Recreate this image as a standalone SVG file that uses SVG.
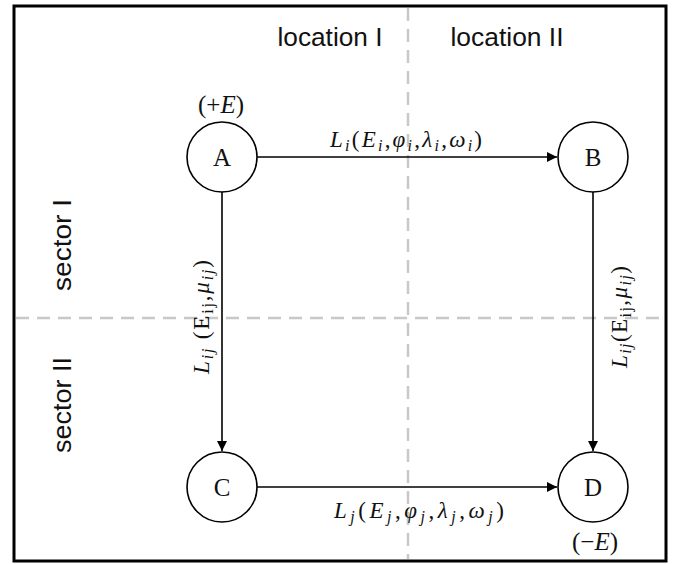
<svg xmlns="http://www.w3.org/2000/svg" width="674" height="564" viewBox="0 0 674 564">
<defs>
<style>
.frame{fill:#fff;stroke:#000;stroke-width:3}
.grid{stroke:#c8c8c8;stroke-width:2.5;stroke-dasharray:13 8;fill:none}
.node{fill:#fff;stroke:#000;stroke-width:1.6}
.edge{stroke:#000;stroke-width:1.6;fill:none}
.sans{font-family:"Liberation Sans",Arial,sans-serif;font-size:26px;fill:#111;text-anchor:middle}
.math{font-family:"Liberation Serif","DejaVu Serif",serif;font-size:23px;fill:#111;text-anchor:middle}
.lbl{font-family:"Liberation Serif","DejaVu Serif",serif;font-size:25px;fill:#111;text-anchor:middle}
.it{font-style:italic}
.sub{font-size:16px;font-style:italic}
.subu{font-size:16px}
</style>
<marker id="arr" viewBox="0 0 10 10" refX="10" refY="5" markerWidth="10" markerHeight="10" markerUnits="userSpaceOnUse" orient="auto">
<path d="M0,0 L10,5 L0,10 z" fill="#000"/>
</marker>
</defs>
<rect class="frame" x="14" y="6" width="652" height="555"/>
<g id="grid">
<line class="grid" x1="408" y1="8" x2="408" y2="559"/>
<line class="grid" x1="16" y1="318" x2="664" y2="318"/>
</g>
<g id="region-labels">
<text class="sans" x="330" y="46" textLength="105" lengthAdjust="spacingAndGlyphs">location I</text>
<text class="sans" x="507" y="46" textLength="113" lengthAdjust="spacingAndGlyphs">location II</text>
<text class="sans" transform="translate(71,245) rotate(-90)" textLength="92" lengthAdjust="spacingAndGlyphs">sector I</text>
<text class="sans" transform="translate(71,405) rotate(-90)" textLength="96" lengthAdjust="spacingAndGlyphs">sector II</text>
</g>
<g id="connectors">
<line class="edge" x1="257" y1="157" x2="557" y2="157" marker-end="url(#arr)"/>
<line class="edge" x1="222" y1="192" x2="222" y2="451" marker-end="url(#arr)"/>
<line class="edge" x1="593" y1="192" x2="593" y2="451" marker-end="url(#arr)"/>
<line class="edge" x1="257" y1="487" x2="557" y2="487" marker-end="url(#arr)"/>
<text class="math" x="406" y="147" textLength="152" lengthAdjust="spacing"><tspan class="it">L</tspan><tspan class="sub" dy="4">i</tspan><tspan dy="-4">(</tspan><tspan class="it">E</tspan><tspan class="sub" dy="4">i</tspan><tspan dy="-4">,</tspan><tspan class="it">φ</tspan><tspan class="sub" dy="4">i</tspan><tspan dy="-4">,</tspan><tspan class="it">λ</tspan><tspan class="sub" dy="4">i</tspan><tspan dy="-4">,</tspan><tspan class="it">ω</tspan><tspan class="sub" dy="4">i</tspan><tspan dy="-4">)</tspan></text>
<text class="math" x="419" y="518" textLength="170" lengthAdjust="spacing"><tspan class="it">L</tspan><tspan class="sub" dy="4">j</tspan><tspan dy="-4">(</tspan><tspan class="it">E</tspan><tspan class="sub" dy="4">j</tspan><tspan dy="-4">,</tspan><tspan class="it">φ</tspan><tspan class="sub" dy="4">j</tspan><tspan dy="-4">,</tspan><tspan class="it">λ</tspan><tspan class="sub" dy="4">j</tspan><tspan dy="-4">,</tspan><tspan class="it">ω</tspan><tspan class="sub" dy="4">j</tspan><tspan dy="-4">)</tspan></text>
<text class="math" transform="translate(209,317) rotate(-90)" textLength="114" lengthAdjust="spacing"><tspan class="it">L</tspan><tspan class="sub" dy="4">ij</tspan><tspan dy="-4"> (E</tspan><tspan class="subu" dy="4">ij</tspan><tspan dy="-4">,</tspan><tspan class="it">μ</tspan><tspan class="sub" dy="4">ij</tspan><tspan dy="-4">)</tspan></text>
<text class="math" transform="translate(627,317) rotate(-90)" textLength="102" lengthAdjust="spacing"><tspan class="it">L</tspan><tspan class="sub" dy="4">ij</tspan><tspan dy="-4">(E</tspan><tspan class="subu" dy="4">ij</tspan><tspan dy="-4">,</tspan><tspan class="it">μ</tspan><tspan class="sub" dy="4">ij</tspan><tspan dy="-4">)</tspan></text>
</g>
<g id="node-A">
<circle class="node" cx="222" cy="157" r="35"/>
<text class="lbl" x="222" y="166">A</text>
<text class="lbl" x="221" y="113">(+<tspan class="it">E</tspan>)</text>
</g>
<g id="node-B">
<circle class="node" cx="593" cy="157" r="35"/>
<text class="lbl" x="593" y="166">B</text>
</g>
<g id="node-C">
<circle class="node" cx="222" cy="487" r="35"/>
<text class="lbl" x="222" y="496">C</text>
</g>
<g id="node-D">
<circle class="node" cx="593" cy="487" r="35"/>
<text class="lbl" x="593" y="496">D</text>
<text class="lbl" x="595" y="550">(−<tspan class="it">E</tspan>)</text>
</g>
</svg>
